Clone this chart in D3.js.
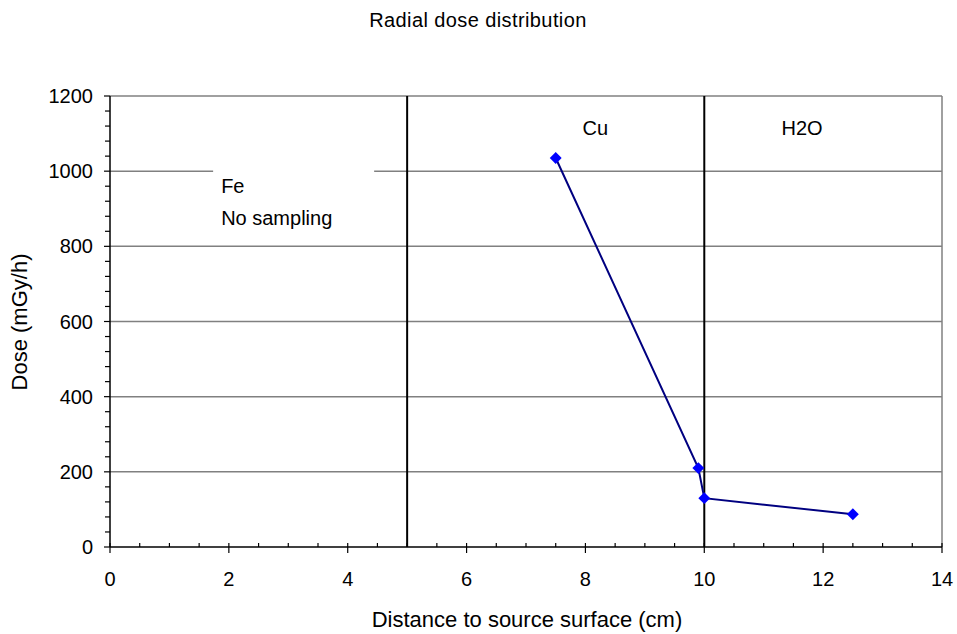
<!DOCTYPE html>
<html><head><meta charset="utf-8">
<script src="https://cdn.jsdelivr.net/npm/d3@7"></script>
<style>body{margin:0;background:#fff}text{font-family:"Liberation Sans",Arial,sans-serif;fill:#000}</style>
</head><body><svg id="c" width="957" height="634"></svg>
<script>
const distance = [7.5, 9.9, 10.0, 12.5];
const dose = [1035, 210, 130, 87];
const xTicks = [0, 2, 4, 6, 8, 10, 12, 14];
const yTicks = [0, 200, 400, 600, 800, 1000, 1200];
const boundaries = [5, 10];
const regionLabels = [
  {x: 7.95, y: 1097, lines: ["Cu"]},
  {x: 11.3, y: 1097, lines: ["H2O"]},
  {x: 1.87, y: 943, lines: ["Fe", "No sampling"]}
];

const svg = d3.select("#c");
const L = 110, R = 942, T = 96, B = 547;
const x = d3.scaleLinear().domain([0, 14]).range([L, R]);
const y = d3.scaleLinear().domain([0, 1200]).range([B, T]);

// gridlines
svg.append("g").selectAll("line").data(yTicks.filter(d => d > 0)).join("line")
  .attr("x1", L).attr("x2", R).attr("y1", d => y(d)).attr("y2", d => y(d))
  .attr("stroke", "#808080").attr("stroke-width", 1.5);
// right border
svg.append("line").attr("x1", R).attr("x2", R).attr("y1", T).attr("y2", B)
  .attr("stroke", "#808080").attr("stroke-width", 1.5);

// Fe label white box
const fe = regionLabels[2];
svg.append("rect").attr("x", x(fe.x) - 8).attr("y", y(1000) - 1.5).attr("width", 161).attr("height", 62).attr("fill", "#fff");

// boundaries
svg.append("g").selectAll("line").data(boundaries).join("line")
  .attr("x1", d => x(d)).attr("x2", d => x(d)).attr("y1", T).attr("y2", B)
  .attr("stroke", "#000").attr("stroke-width", 2);

// y axis
const minorY = d3.range(0, 1201, 40);
svg.append("g").selectAll("line").data(minorY).join("line")
  .attr("x1", d => yTicks.includes(d) ? L - 6 : L - 5).attr("x2", L)
  .attr("y1", d => y(d)).attr("y2", d => y(d)).attr("stroke", "#000").attr("stroke-width", 1.2);
svg.append("line").attr("x1", L).attr("x2", L).attr("y1", T).attr("y2", B).attr("stroke", "#000").attr("stroke-width", 1.5);
svg.append("g").selectAll("text").data(yTicks).join("text")
  .attr("x", L - 17).attr("y", d => y(d) + 7).attr("text-anchor", "end").attr("font-size", 20).text(d => d);

// x axis
const minorX = d3.range(0, 14.01, 0.5);
svg.append("g").selectAll("line").data(minorX).join("line")
  .attr("x1", d => x(d)).attr("x2", d => x(d))
  .attr("y1", d => B - 4).attr("y2", d => xTicks.includes(d) ? B + 6 : B)
  .attr("stroke", "#000").attr("stroke-width", 1.2);
svg.append("line").attr("x1", L).attr("x2", R).attr("y1", B).attr("y2", B).attr("stroke", "#000").attr("stroke-width", 1.5);
svg.append("g").selectAll("text").data(xTicks).join("text")
  .attr("x", d => x(d)).attr("y", B + 39).attr("text-anchor", "middle").attr("font-size", 20).text(d => d);

// titles
svg.append("text").attr("x", 478).attr("y", 27).attr("text-anchor", "middle").attr("font-size", 20).attr("letter-spacing", 0.4).text("Radial dose distribution");
svg.append("text").attr("x", 527).attr("y", 627).attr("text-anchor", "middle").attr("font-size", 22).text("Distance to source surface (cm)");
svg.append("text").attr("transform", `translate(27,322) rotate(-90)`).attr("text-anchor", "middle").attr("font-size", 22).text("Dose (mGy/h)");

// region labels
regionLabels.forEach(r => {
  const t = svg.append("text").attr("font-size", 20);
  r.lines.forEach((s, i) => t.append("tspan").attr("x", x(r.x)).attr("y", y(r.y) + i * 32).text(s));
});

// series
const pts = distance.map((d, i) => [d, dose[i]]);
svg.append("path").datum(pts).attr("fill", "none").attr("stroke", "#000080").attr("stroke-width", 2)
  .attr("d", d3.line().x(d => x(d[0])).y(d => y(d[1])));
svg.append("g").selectAll("path").data(pts).join("path")
  .attr("transform", d => `translate(${x(d[0])},${y(d[1])})`)
  .attr("d", d3.symbol(d3.symbolDiamond2, 90)).attr("fill", "#0000ff");
</script></body></html>
